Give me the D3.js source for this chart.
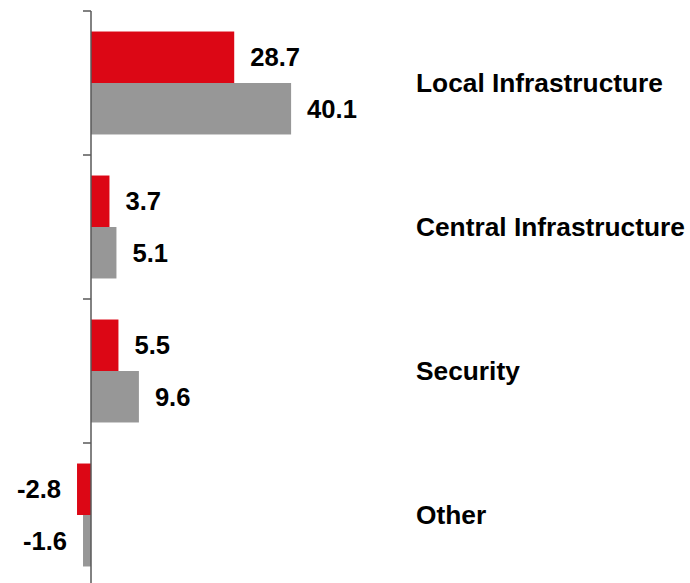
<!DOCTYPE html>
<html><head><meta charset="utf-8">
<script src="https://cdn.jsdelivr.net/npm/d3@7"></script>
<style>html,body{margin:0;padding:0;background:#fff;}svg{display:block;}</style>
</head><body><svg id="c" width="690" height="583"></svg>
<script>
const categories = ["Local Infrastructure", "Central Infrastructure", "Security", "Other"];
const seriesNames = ["A", "B"];
const seriesA = [28.7, 3.7, 5.5, -2.8];
const seriesB = [40.1, 5.1, 9.6, -1.6];
const colors = ["#dc0715", "#979797"];

const svg = d3.select("#c");
const x = d3.scaleLinear().domain([0, 10]).range([91, 140.9]);
const y = d3.scaleBand().domain(categories).range([11, 587]).paddingInner(0.285).paddingOuter(0.1425);
const ys = d3.scaleBand().domain(seriesNames).range([0, y.bandwidth()]);
const font = "'Liberation Sans', Arial, sans-serif";

const rows = [];
categories.forEach((c, i) => {
  rows.push({cat: c, s: "A", v: seriesA[i], color: colors[0]});
  rows.push({cat: c, s: "B", v: seriesB[i], color: colors[1]});
});

svg.selectAll("rect.bar").data(rows).join("rect")
  .attr("class", "bar")
  .attr("x", d => Math.min(x(0), x(d.v)))
  .attr("width", d => Math.abs(x(d.v) - x(0)))
  .attr("y", d => y(d.cat) + ys(d.s))
  .attr("height", ys.bandwidth())
  .attr("fill", d => d.color);

svg.selectAll("text.val").data(rows).join("text")
  .attr("class", "val")
  .attr("x", d => d.v >= 0 ? x(d.v) + 16 : x(d.v) - 16)
  .attr("y", d => y(d.cat) + ys(d.s) + ys.bandwidth() / 2)
  .attr("dy", "0.36em")
  .attr("text-anchor", d => d.v >= 0 ? "start" : "end")
  .attr("font-family", font).attr("font-weight", "bold").attr("font-size", 25.6)
  .attr("fill", "#000")
  .text(d => d.v.toFixed(1));

// axis
const step = y.step();
const bounds = categories.map(c => y(c) - step * y.paddingInner() / 2);
bounds.push(bounds[bounds.length - 1] + step);
svg.append("line").attr("x1", x(0)).attr("x2", x(0)).attr("y1", bounds[0]).attr("y2", bounds[bounds.length - 1])
  .attr("stroke", "#595959").attr("stroke-width", 1.5);
svg.selectAll("line.tick").data(bounds).join("line").attr("class", "tick")
  .attr("x1", x(0) - 8).attr("x2", x(0)).attr("y1", d => d).attr("y2", d => d)
  .attr("stroke", "#595959").attr("stroke-width", 1.5);

svg.selectAll("text.cat").data(categories).join("text")
  .attr("class", "cat")
  .attr("x", 416)
  .attr("y", d => y(d) + y.bandwidth() / 2)
  .attr("dy", "0.36em")
  .attr("font-family", font).attr("font-weight", "bold").attr("font-size", 26.3)
  .attr("fill", "#000")
  .text(d => d);
</script></body></html>
